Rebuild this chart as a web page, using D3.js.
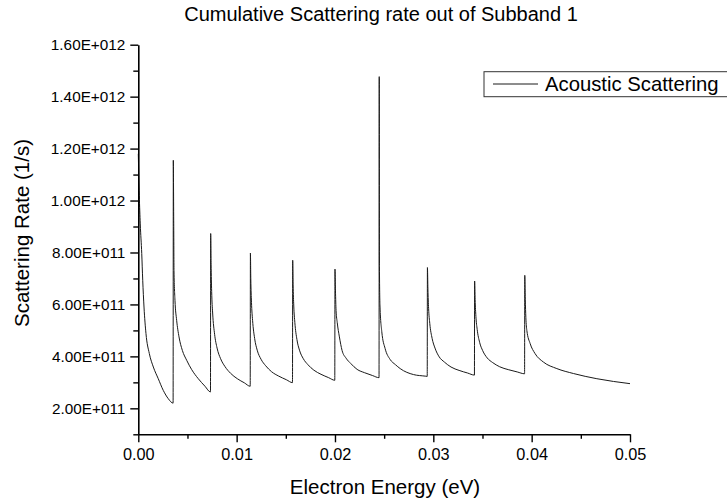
<!DOCTYPE html>
<html>
<head>
<meta charset="utf-8">
<script src="https://cdn.jsdelivr.net/npm/d3@7"></script>
<style>
  html, body { margin: 0; padding: 0; background: #fff; }
  svg { display: block; }
  text { font-family: "Liberation Sans", Arial, sans-serif; fill: #000; }
</style>
</head>
<body>
<svg id="chart" width="727" height="503"></svg>
<script>
// ---- data ----
const chartTitle = "Cumulative Scattering rate out of Subband 1";
const xTitle = "Electron Energy (eV)";
const yTitle = "Scattering Rate (1/s)";
const seriesName = "Acoustic Scattering";

const xTicks = [0.00, 0.01, 0.02, 0.03, 0.04, 0.05];
const xTickLabels = ["0.00", "0.01", "0.02", "0.03", "0.04", "0.05"];
const yTicks = [2e11, 4e11, 6e11, 8e11, 1e12, 1.2e12, 1.4e12, 1.6e12];
const yTickLabels = ["2.00E+011", "4.00E+011", "6.00E+011", "8.00E+011",
                     "1.00E+012", "1.20E+012", "1.40E+012", "1.60E+012"];

// electron energy (eV)
const energy = [
  0, 0.0001, 0.0002, 0.00035, 0.00045, 0.00058, 0.00078, 0.00112, 0.00153, 0.00203, 0.00254, 0.00305, 0.00354,
  0.00356, 0.00360, 0.00363, 0.00373, 0.0039, 0.00414, 0.00448, 0.00492, 0.00543, 0.0061, 0.00678, 0.00734,
  0.00736, 0.0074, 0.00746, 0.00756, 0.00776, 0.00801, 0.00837, 0.00881, 0.00938, 0.01007, 0.01079, 0.01138,
  0.0114, 0.01144, 0.01151, 0.01162, 0.01183, 0.01209, 0.01248, 0.01295, 0.01355, 0.01428, 0.01506, 0.01568,
  0.0157, 0.01574, 0.01581, 0.01592, 0.01613, 0.01639, 0.01678, 0.01725, 0.01785, 0.01858, 0.01936, 0.01998,
  0.0200, 0.02005, 0.02011, 0.02023, 0.02045, 0.02072, 0.02113, 0.02162, 0.02225, 0.02302, 0.02383, 0.02448,
  0.0245, 0.02452, 0.02458, 0.02476, 0.0251, 0.02561, 0.02615, 0.02663, 0.02798, 0.02917, 0.02938,
  0.0294, 0.02945, 0.02952, 0.02964, 0.02988, 0.03017, 0.0306, 0.03113, 0.0318, 0.03262, 0.03348, 0.03418,
  0.0342, 0.03425, 0.03433, 0.03446, 0.03471, 0.03502, 0.03548, 0.03604, 0.03675, 0.03762, 0.03854, 0.03928,
  0.0393, 0.03935, 0.03941, 0.03951, 0.03985, 0.04034, 0.0412, 0.04256, 0.04425, 0.04663, 0.0500
];
// scattering rate (1/s)
const rate = [
  11.8e11, 10.2e11, 9.1e11, 7.96e11, 6.93e11, 5.9e11, 4.88e11, 4.11e11, 3.59e11, 3.14e11, 2.69e11, 2.37e11, 2.2e11,
  11.55e11, 9.24e11, 7.3e11, 6.16e11, 5.39e11, 4.75e11, 4.23e11, 3.85e11, 3.49e11, 3.14e11, 2.85e11, 2.63e11,
  8.73e11, 7.55e11, 6.5e11, 5.67e11, 4.85e11, 4.32e11, 3.91e11, 3.61e11, 3.35e11, 3.14e11, 2.98e11, 2.85e11,
  7.98e11, 6.98e11, 6.08e11, 5.39e11, 4.69e11, 4.24e11, 3.89e11, 3.64e11, 3.41e11, 3.24e11, 3.10e11, 2.99e11,
  7.70e11, 6.78e11, 5.94e11, 5.30e11, 4.65e11, 4.24e11, 3.91e11, 3.68e11, 3.47e11, 3.31e11, 3.18e11, 3.08e11,
  7.36e11, 6.52e11, 5.77e11, 5.30e11, 4.75e11, 4.23e11, 3.93e11, 3.72e11, 3.50e11, 3.37e11, 3.26e11, 3.18e11,
  14.77e11, 7.45e11, 5.9e11, 4.95e11, 4.30e11, 3.88e11, 3.68e11, 3.53e11, 3.30e11, 3.24e11, 3.23e11,
  7.42e11, 6.59e11, 5.85e11, 5.27e11, 4.69e11, 4.32e11, 3.98e11, 3.78e11, 3.59e11, 3.46e11, 3.36e11, 3.28e11,
  6.90e11, 6.19e11, 5.54e11, 5.04e11, 4.54e11, 4.22e11, 3.94e11, 3.76e11, 3.60e11, 3.49e11, 3.40e11, 3.33e11,
  7.12e11, 6.2e11, 5.5e11, 5.0e11, 4.49e11, 4.11e11, 3.78e11, 3.53e11, 3.34e11, 3.14e11, 2.95e11
];

// ---- drawing ----
const svg = d3.select("#chart");
const plotLeft = 138.3, plotRight = 630, plotTop = 44.7, plotBottom = 434.3;

const x = d3.scaleLinear().domain([0, 0.05]).range([plotLeft, plotRight]);
const y = d3.scaleLinear().domain([1e11, 1.6e12]).range([plotBottom, plotTop]);

const points = energy.map((e, i) => [e, rate[i]]);

// data line
svg.append("path")
  .datum(points)
  .attr("fill", "none")
  .attr("stroke", "#1a1a1a")
  .attr("stroke-width", 1)
  .attr("d", d3.line().x(d => x(d[0])).y(d => y(d[1])).curve(d3.curveMonotoneX));

// minor ticks
const xMinor = d3.range(0.005, 0.05, 0.01);
const yMinor = d3.range(1e11, 1.6e12, 2e11);

const gx = svg.append("g").attr("transform", `translate(0,${plotBottom})`);
gx.call(d3.axisBottom(x).tickValues(xMinor).tickSize(4.5).tickFormat(""));
gx.call(g => g.select(".domain").remove());
const gx2 = svg.append("g").attr("transform", `translate(0,${plotBottom})`);
gx2.call(d3.axisBottom(x).tickValues(xTicks).tickSize(8).tickPadding(6)
  .tickFormat((d, i) => xTickLabels[i]).tickSizeOuter(0));

const gy = svg.append("g").attr("transform", `translate(${plotLeft},0)`);
gy.call(d3.axisLeft(y).tickValues(yMinor).tickSize(5).tickFormat(""));
gy.call(g => g.select(".domain").remove());
const gy2 = svg.append("g").attr("transform", `translate(${plotLeft},0)`);
gy2.call(d3.axisLeft(y).tickValues(yTicks).tickSize(8).tickPadding(5)
  .tickFormat((d, i) => yTickLabels[i]).tickSizeOuter(0));

svg.selectAll(".domain").attr("stroke", "#000").attr("stroke-width", 1.6);
svg.selectAll(".tick line").attr("stroke", "#000").attr("stroke-width", 1.4);
gx2.selectAll(".tick text").attr("font-size", 16.3).attr("font-family", "Liberation Sans, Arial, sans-serif").attr("fill", "#000");
gy2.selectAll(".tick text").attr("font-size", 15.3).attr("font-family", "Liberation Sans, Arial, sans-serif").attr("fill", "#000");

// titles
svg.append("text").attr("x", 381).attr("y", 21).attr("text-anchor", "middle")
  .attr("font-size", 20).text(chartTitle);
svg.append("text").attr("x", 385).attr("y", 493.5).attr("text-anchor", "middle")
  .attr("font-size", 20.5).text(xTitle);
svg.append("text").attr("transform", "translate(29,233) rotate(-90)").attr("text-anchor", "middle")
  .attr("font-size", 20.5).text(yTitle);

// legend
const lg = svg.append("g");
lg.append("rect").attr("x", 484).attr("y", 71.7).attr("width", 260).attr("height", 25)
  .attr("fill", "#fff").attr("stroke", "#333").attr("stroke-width", 1);
lg.append("line").attr("x1", 493).attr("x2", 538).attr("y1", 84).attr("y2", 84)
  .attr("stroke", "#1a1a1a").attr("stroke-width", 1);
lg.append("text").attr("x", 545).attr("y", 91).attr("font-size", 20.3).text(seriesName);
</script>
</body>
</html>
